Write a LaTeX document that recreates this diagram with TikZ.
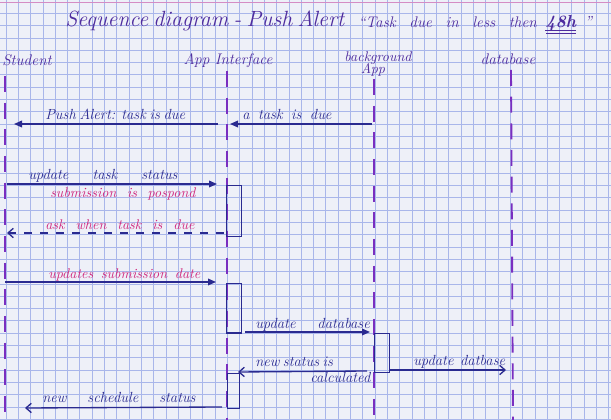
\documentclass[tikz,border=0pt]{standalone}
\usetikzlibrary{arrows.meta}

\definecolor{paper}{HTML}{EEF0F8}
\definecolor{gridblue}{HTML}{A9B6EA}
\definecolor{marginpink}{HTML}{D58CC4}
\definecolor{ink}{HTML}{2A2A90}
\definecolor{lifeviolet}{HTML}{7A2EC0}
\definecolor{titleviolet}{HTML}{4E2C9E}
\definecolor{notepink}{HTML}{D0287E}

% stretch the word gaps of a label to a given width (in pt)
\newcommand{\spread}[2]{\makebox[#1pt][s]{#2}}

\begin{document}
\begin{tikzpicture}[x=0.75pt,y=-0.75pt,
  gridline/.style={draw=gridblue, line width=0.55pt},
  lifeline/.style={draw=lifeviolet, line width=1.4pt, dash pattern=on 12pt off 8pt},
  actor/.style={font=\fontsize{11.5}{14}\selectfont\itshape, text=titleviolet, inner sep=0pt, anchor=base},
  msg/.style={draw=ink, line width=1pt, -{Triangle[length=6pt,width=5pt]}},
  reply/.style={draw=ink, line width=1pt, -{Straight Barb[length=4pt,width=7pt]}},
  dreply/.style={reply, dash pattern=on 6pt off 6pt},
  lbl/.style={font=\fontsize{11}{13}\selectfont\itshape, text=ink, inner sep=0pt, anchor=base west},
  note/.style={lbl, font=\fontsize{10.5}{12}\selectfont\itshape, text=notepink},
  activation/.style={draw=ink, line width=1pt, inner sep=0pt, anchor=north west}
]

% paper and squared grid
\fill[paper] (0,0) rectangle (611,420);
\useasboundingbox (0,0) rectangle (611,420);
\foreach \i in {0,...,49} \draw[gridline] ({6+12.3*\i},0) -- ({6+12.3*\i},420);
\foreach \j in {0,...,33} \draw[gridline] (0,{13.3+12.3*\j}) -- (611,{13.3+12.3*\j});
\draw[marginpink, line width=1pt] (0,2.5) -- (611,2.5);

% title
\node[font=\fontsize{16.5}{19}\selectfont\itshape, text=titleviolet, inner sep=0pt, anchor=base west]
  (title) at (65,27) {\spread{206}{Sequence diagram - Push Alert}};
\node[font=\fontsize{11.5}{13}\selectfont\itshape, text=titleviolet, inner sep=0pt, anchor=base west]
  (subtitle) at (358,28) {\spread{134}{``Task due in less then}};
\node[font=\fontsize{13}{15}\selectfont\itshape\bfseries, text=titleviolet, inner sep=0pt, anchor=base west]
  (hours) at (545,28) {48h};
\node[font=\fontsize{12}{14}\selectfont\itshape, text=titleviolet, inner sep=0pt, anchor=base west]
  (quoteend) at (584,28) {''};
\draw[titleviolet, line width=0.8pt] ([yshift=-2pt]hours.base west) -- ([yshift=-2pt]hours.base east);
\draw[titleviolet, line width=0.6pt] ([yshift=-4pt,xshift=1pt]hours.base west) -- ([yshift=-4pt]hours.base east);

% participants
\node[actor, anchor=base west] (student) at (2,66) {Student};
\node[actor] (appif) at (228,65) {App Interface};
\node[actor, font=\fontsize{10.5}{12}\selectfont\itshape] (bgapp) at (378,62) {background};
\node[actor, font=\fontsize{10.5}{12}\selectfont\itshape] (bgapp2) at (373,74) {App};
\node[actor] (db) at (508,65) {database};

% lifelines
\coordinate (studentTop) at (5,76);   \coordinate (studentEnd) at (5,420);
\coordinate (appTop) at (227,71);     \coordinate (appEnd) at (227,420);
\coordinate (bgTop) at (374,79);      \coordinate (bgEnd) at (374,420);
\coordinate (dbTop) at (511,70);      \coordinate (dbEnd) at (513,420);
\draw[lifeline] (studentTop) -- (studentEnd);
\draw[lifeline] (appTop) -- (appEnd);
\draw[lifeline] (bgTop) -- (bgEnd);
\draw[lifeline] (dbTop) -- (dbEnd);

% activation bars
\node[activation, minimum width=11pt, minimum height=38pt] (act1) at (226,185) {};
\node[activation, minimum width=11pt, minimum height=37pt] (act2) at (226,283) {};
\node[activation, minimum width=11pt, minimum height=29pt] (act3) at (374,333) {};
\node[activation, minimum width=9pt, minimum height=26pt] (act4) at (227,373) {};

% 1: background app -> app interface
\coordinate (m1s) at (372,124); \coordinate (m1e) at (230,124);
\draw[msg] (m1s) -- (m1e);
\node[lbl] (l1) at (242,120) {\spread{67}{a task is due}};

% 2: app interface -> student
\coordinate (m2s) at (218,124); \coordinate (m2e) at (14,124);
\draw[msg] (m2s) -- (m2e);
\node[lbl] (l2) at (45,120) {\spread{105}{Push Alert: task is due}};

% 3: student -> app interface
\coordinate (m3s) at (7,184); \coordinate (m3e) at (217,184);
\draw[msg] (m3s) -- (m3e);
\node[lbl] (l3) at (28,180) {\spread{112}{update task status}};
\node[note] (n3) at (50,198) {\spread{109}{submission is pospond}};

% 4: app interface asks the student (dashed return)
\coordinate (m4s) at (224,233); \coordinate (m4e) at (7,233);
\draw[dreply] (m4s) -- (m4e);
\node[note] (n4) at (45,230) {\spread{112}{ask when task is due}};

% 5: student -> app interface
\coordinate (m5s) at (5,282); \coordinate (m5e) at (216,282);
\draw[msg] (m5s) -- (m5e);
\node[note] (n5) at (48,279) {\spread{114}{updates submission date}};

% 6: app interface -> background app
\coordinate (m6s) at (245,332); \coordinate (m6e) at (370,332);
\draw[msg] (m6s) -- (m6e);
\node[lbl] (l6) at (255,329) {\spread{86}{update database}};

% 7: background app -> database
\coordinate (m7s) at (390,370); \coordinate (m7e) at (506,370);
\draw[reply] (m7s) -- (m7e);
\node[lbl] (l7) at (413,366) {\spread{69}{update datbase}};

% 8: background app -> app interface
\coordinate (m8s) at (367,371); \coordinate (m8e) at (238,372);
\draw[reply] (m8s) -- (m8e);
\node[lbl] (l8) at (255,367) {\spread{56}{new status is}};
\node[lbl] (l8b) at (310,383) {calculated};

% 9: app interface -> student
\coordinate (m9s) at (222,407); \coordinate (m9e) at (25,408);
\draw[reply] (m9s) -- (m9e);
\node[lbl] (l9) at (42,403) {\spread{115}{new schedule status}};

\end{tikzpicture}
\end{document}
